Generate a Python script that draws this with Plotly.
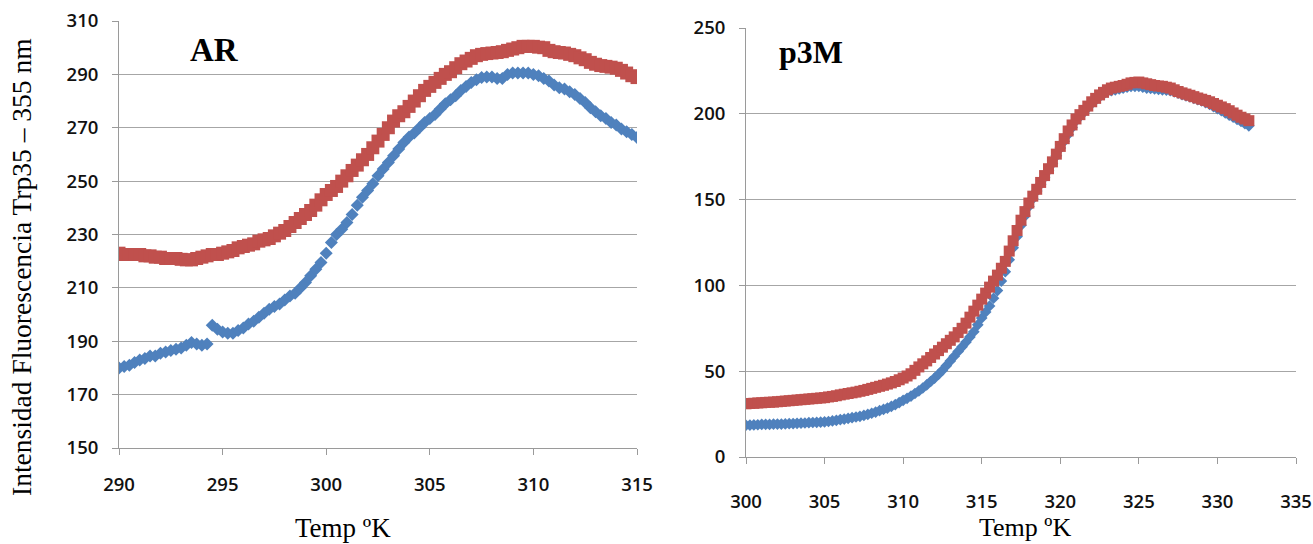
import plotly.graph_objects as go

# ---------- Data: AR (left panel) ----------
ar_temp = [290 + 0.25 * i for i in range(101)]
ar_blue = [180, 180.5, 181, 182, 183, 183.5, 184.5, 184.5, 185.5, 186,
           186.5, 187, 187.5, 188.5, 189.5, 189, 188.5, 189, 196, 194.5,
           193.5, 193, 193, 194, 195, 196.5, 197.5, 199, 200.5, 202,
           203, 204, 205.5, 207, 208, 210, 212, 214.5, 217, 219.5,
           223, 227, 230, 232, 234.5, 237.5, 241, 244, 246.5, 249,
           252, 254.5, 257, 259.5, 262, 264.5, 266.5, 268, 270, 272,
           273.5, 275, 277, 279, 280.5, 282, 284, 285.5, 287, 288,
           288.8, 289, 289, 288.5, 288.5, 290, 290.5, 290.5, 290.5, 290.5,
           290, 289.5, 288.5, 287.5, 286, 285, 284.5, 283.5, 282.5, 281,
           279.5, 277.5, 276, 274.5, 273.5, 272, 271, 269.5, 268.5, 267.5,
           266.3]
ar_red = [223, 222.5, 222.5, 222.5, 222.5, 222, 222, 221.5, 221.5, 221,
          221, 221, 220.7, 220.5, 220.5, 221, 221.5, 222, 222.5, 222.5,
          223, 223.5, 224, 225, 225.5, 226, 226.5, 227.5, 228, 228.5,
          229.5, 230.5, 231.5, 233, 234.5, 236, 237.5, 239, 241, 243,
          245, 246.5, 248, 250, 252, 254, 256, 258, 260, 262.5,
          265, 267.5, 270, 272.5, 274.5, 276, 278, 280, 282, 284,
          285.5, 287, 288.5, 290, 291, 292.5, 294, 295, 296, 297,
          297.5, 297.8, 298, 298.2, 298.5, 299, 299.5, 300, 300.5, 300.5,
          300.5, 300.2, 300, 299, 298.5, 298.2, 298, 297.5, 297, 296.2,
          295.5, 294.5, 293.8, 293.3, 293, 292.7, 292.3, 291.5, 290.5, 289.5,
          288.8]

# ---------- Data: p3M (right panel) ----------
p3m_temp = [300 + 0.25 * i for i in range(129)]
p3m_blue = [18.5, 18.6, 18.7, 18.8, 19, 19, 19, 19.1, 19.2, 19.2,
            19.3, 19.4, 19.5, 19.6, 19.7, 19.8, 20, 20.1, 20.2, 20.3,
            20.5, 20.7, 21, 21.4, 21.8, 22.1, 22.5, 22.9, 23.3, 23.7,
            24.2, 24.8, 25.5, 26.2, 27, 27.7, 28.5, 29.5, 30.5, 31.7,
            33, 34.2, 35.5, 37, 38.5, 40.2, 42, 44, 46, 48.2,
            50.5, 53.2, 56, 58.7, 61.5, 64.2, 67, 70, 73, 77,
            81, 84.5, 88, 92.5, 97, 102.5, 108, 115, 122, 128.5,
            135, 140.5, 146, 150.5, 155, 159, 163, 167, 171, 175.5,
            180, 184, 188, 192, 196, 198.5, 201, 203.5, 206, 208,
            210, 211.5, 213, 213.5, 214, 214.5, 215, 215.5, 216, 216,
            216, 215.5, 215, 214.8, 214.5, 214.2, 214, 213.8, 213.5, 212.8,
            212, 211.2, 210.5, 209.8, 209, 208.2, 207.5, 206.5, 205.5, 204.2,
            203, 201.8, 200.5, 199.2, 198, 196.8, 195.5, 194.2, 193]
p3m_red = [31, 31.2, 31.3, 31.5, 31.6, 31.8, 31.9, 32, 32.2, 32.4,
           32.6, 32.8, 33, 33.2, 33.4, 33.6, 33.8, 34, 34.2, 34.4,
           34.6, 35, 35.3, 35.7, 36.2, 36.6, 37, 37.4, 37.8, 38.3,
           38.8, 39.4, 40, 40.6, 41.2, 41.8, 42.5, 43.2, 44, 45,
           46, 47.2, 48.5, 50.5, 52.5, 54.3, 56, 58, 60, 62,
           64, 66, 68, 70, 72.5, 75, 78, 81.5, 85, 88.5,
           92, 95.5, 99, 102.5, 106, 110, 114, 120, 126, 132,
           138, 143, 148, 152, 156, 160, 164, 168, 172, 176.5,
           181, 185.5, 190, 193.5, 197, 199.5, 202, 204.5, 207, 209,
           211, 212.5, 214, 215, 215.5, 216, 216.5, 217.2, 218, 218.3,
           218.5, 218, 217.5, 217, 216.5, 216.2, 216, 215.5, 215, 214,
           213, 212.2, 211.5, 210.8, 210, 209.2, 208.5, 207.8, 207, 206,
           205, 204, 203, 201.8, 200.5, 199.2, 198, 197, 196]

ar_xticks = [290, 295, 300, 305, 310, 315]
ar_yticks = [150, 170, 190, 210, 230, 250, 270, 290, 310]
p3m_xticks = [300, 305, 310, 315, 320, 325, 330, 335]
p3m_yticks = [0, 50, 100, 150, 200, 250]

BLUE = "#4F81BD"
RED = "#C0504D"
W, H = 1313, 544

fig = go.Figure()
fig.add_trace(go.Scatter(x=ar_temp, y=ar_blue, mode="markers", xaxis="x", yaxis="y",
                         marker=dict(symbol="diamond", size=10, color=BLUE), showlegend=False))
fig.add_trace(go.Scatter(x=ar_temp, y=ar_red, mode="markers", xaxis="x", yaxis="y",
                         marker=dict(symbol="square", size=13, color=RED), showlegend=False))
fig.add_trace(go.Scatter(x=p3m_temp, y=p3m_blue, mode="markers", xaxis="x2", yaxis="y2",
                         marker=dict(symbol="diamond", size=9, color=BLUE), showlegend=False))
fig.add_trace(go.Scatter(x=p3m_temp, y=p3m_red, mode="markers", xaxis="x2", yaxis="y2",
                         marker=dict(symbol="square", size=11, color=RED), showlegend=False))

tickfont = dict(family="Open Sans, Lato, sans-serif", size=18.5, color="#111111", weight=600)
axcommon = dict(showline=True, linecolor="#9A9A9A", linewidth=1, ticks="outside",
                ticklen=6, tickcolor="#9A9A9A", tickfont=tickfont, zeroline=False,
                automargin=False)

def px2x(px):
    return px / W

def py2y(py):
    return 1 - py / H

fig.update_layout(
    width=W, height=H,
    margin=dict(l=0, r=0, t=0, b=0),
    paper_bgcolor="white", plot_bgcolor="white",
    xaxis=dict(domain=[px2x(119), px2x(637)], range=[290, 315], tickvals=ar_xticks,
               showgrid=False, anchor="y", ticklabelstandoff=14, **axcommon),
    yaxis=dict(domain=[py2y(448), py2y(21)], range=[150, 310], tickvals=ar_yticks,
               showgrid=True, gridcolor="#A6A6A6", gridwidth=1, anchor="x",
               ticklabelstandoff=10, **axcommon),
    xaxis2=dict(domain=[px2x(746), px2x(1296)], range=[300, 335], tickvals=p3m_xticks,
                showgrid=False, anchor="y2", ticklabelstandoff=22, **axcommon),
    yaxis2=dict(domain=[py2y(457), py2y(28)], range=[0, 250], tickvals=p3m_yticks,
                showgrid=True, gridcolor="#A6A6A6", gridwidth=1, anchor="x2",
                ticklabelstandoff=10, **axcommon),
)

serif = "Liberation Serif, Times New Roman, serif"
annotations = [
    dict(text="AR", x=px2x(214), y=py2y(50), xref="paper", yref="paper",
         showarrow=False, font=dict(family=serif, size=33, color="black", weight="bold"),
         xanchor="center", yanchor="middle"),
    dict(text="p3M", x=px2x(811), y=py2y(52), xref="paper", yref="paper",
         showarrow=False, font=dict(family=serif, size=32, color="black", weight="bold"),
         xanchor="center", yanchor="middle"),
    dict(text="Temp ºK", x=px2x(343), y=py2y(528), xref="paper", yref="paper",
         showarrow=False, font=dict(family=serif, size=27, color="black"),
         xanchor="center", yanchor="middle"),
    dict(text="Temp ºK", x=px2x(1025), y=py2y(527), xref="paper", yref="paper",
         showarrow=False, font=dict(family=serif, size=26, color="black"),
         xanchor="center", yanchor="middle"),
    dict(text="Intensidad Fluorescencia Trp35 – 355 nm", x=px2x(22), y=py2y(267),
         xref="paper", yref="paper", showarrow=False, textangle=-90,
         font=dict(family=serif, size=27.5, color="black"),
         xanchor="center", yanchor="middle"),
]
fig.update_layout(annotations=annotations)

fig.write_html("out.html")
